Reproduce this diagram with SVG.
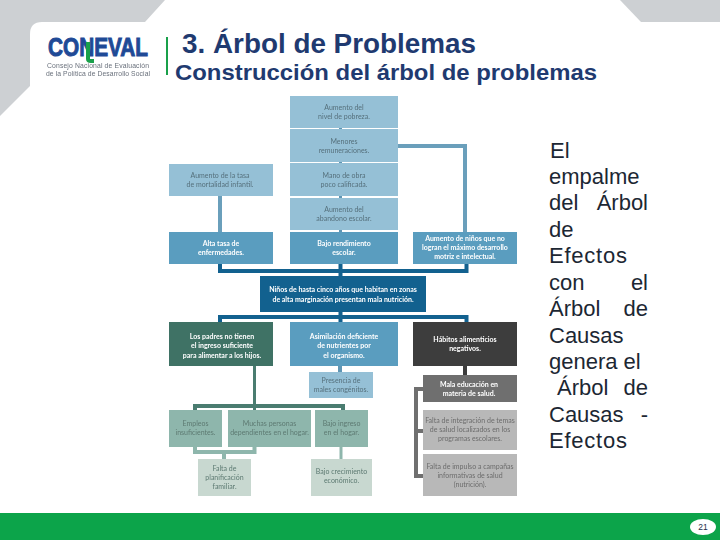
<svg xmlns="http://www.w3.org/2000/svg" width="720" height="540" viewBox="0 0 720 540">
<defs><filter id="soft" x="-5%" y="-20%" width="110%" height="140%"><feGaussianBlur stdDeviation="0.3"/></filter></defs>
<style>
.t{font-family:"Lato","Liberation Sans",sans-serif;font-size:7px;text-anchor:middle;filter:url(#soft)}
.w{fill:#ffffff;font-weight:700}
.d{fill:#55707c}
.g{fill:#5d7a72}
.y{fill:#6c6c6c}
.b{font-family:"Liberation Sans",Arial,sans-serif;font-size:22px;fill:#1c2733}
.e{text-anchor:end}
.c{fill:none;stroke-linecap:butt}
</style>
<rect width="720" height="540" fill="#ffffff"/>
<path d="M0 0H165L145 22H42Q30 22 30 34V86L0 116Z" fill="#cdd0d3"/>
<path d="M620 0L641 22H720V0Z" fill="#cdd0d3"/>
<rect y="513" width="720" height="27" fill="#0ca44a"/>
<ellipse cx="703" cy="527" rx="13" ry="8" fill="#ffffff"/>
<text x="703" y="530" font-family="Liberation Sans,sans-serif" font-size="8.5" fill="#1c2d4a" text-anchor="middle">21</text>

<g id="logo">
<text x="48" y="56" font-family="Liberation Sans,sans-serif" font-size="26" font-weight="700" fill="#1f4a96" stroke="#1f4a96" stroke-width="1" textLength="100" lengthAdjust="spacingAndGlyphs">CONEVAL</text>
<path d="M88 42V59Q88 61 91 61H94" fill="none" stroke="#19a04a" stroke-width="4"/>
<text x="47" y="68" font-family="Liberation Sans,sans-serif" font-size="6.800" fill="#6a717c" textLength="102" filter="url(#soft)">Consejo Nacional de Evaluación</text>
<text x="46" y="76" font-family="Liberation Sans,sans-serif" font-size="6.800" fill="#6a717c" textLength="104" filter="url(#soft)">de la Política de Desarrollo Social</text>
<rect x="166" y="37" width="2" height="38" fill="#19a04a"/>
</g>
<text x="182" y="53" font-family="Liberation Sans,sans-serif" font-size="27" font-weight="700" fill="#1f3a70" textLength="294" lengthAdjust="spacingAndGlyphs">3. Árbol de Problemas</text>
<text x="175" y="80" font-family="Liberation Sans,sans-serif" font-size="22.500" font-weight="700" fill="#1f3a70" textLength="422" lengthAdjust="spacingAndGlyphs">Construcción del árbol de problemas</text>

<g id="connectors" class="c">
<path d="M220 196V232" stroke="#6a9fbb" stroke-width="4"/>
<path d="M398 146H465V232" stroke="#6a9fbb" stroke-width="4"/>
<path d="M340.500 126V232" stroke="#5f96b4" stroke-width="3"/>
<path d="M220 264V271H466.500V264M340.500 264V276" stroke="#12618f" stroke-width="4"/>
<path d="M220 322V317H466.500V322M340.500 312V322" stroke="#12618f" stroke-width="4"/>
<path d="M340 365V372" stroke="#5f96b4" stroke-width="4"/>
<path d="M465 365V375" stroke="#3d3d3d" stroke-width="4"/>
<path d="M254.500 365V410" stroke="#4a7c70" stroke-width="3"/>
<path d="M343 410V406H195V410" stroke="#4a7c70" stroke-width="4"/>
<path d="M195 446V452H254.500V446M224 452V459" stroke="#8eb6ac" stroke-width="4"/>
<path d="M341 446V459" stroke="#8eb6ac" stroke-width="3"/>
<path d="M423 389H416V476H423M416 431H423" stroke="#6f6f6f" stroke-width="4"/>
</g>

<g id="n1"><rect x="290" y="96" width="108" height="32" fill="#95c0d6"/><text class="t d"><tspan x="344" y="110">Aumento del</tspan><tspan x="344" y="119">nivel de pobreza.</tspan></text></g>
<g id="n2"><rect x="290" y="129" width="108" height="33" fill="#95c0d6"/><text class="t d"><tspan x="344" y="144">Menores</tspan><tspan x="344" y="153">remuneraciones.</tspan></text></g>
<g id="n3"><rect x="290" y="163" width="108" height="33" fill="#95c0d6"/><text class="t d"><tspan x="344" y="178">Mano de obra</tspan><tspan x="344" y="187">poco calificada.</tspan></text></g>
<g id="n4"><rect x="290" y="198" width="108" height="32" fill="#95c0d6"/><text class="t d"><tspan x="344" y="212">Aumento del</tspan><tspan x="344" y="221">abandono escolar.</tspan></text></g>
<g id="n5"><rect x="169" y="164" width="104" height="32" fill="#95c0d6"/><text class="t d"><tspan x="220" y="178">Aumento de la tasa</tspan><tspan x="220" y="187">de mortalidad infantil.</tspan></text></g>
<g id="n6"><rect x="169" y="232" width="104" height="32" fill="#5a9dbf"/><text class="t w"><tspan x="221" y="246">Alta tasa de</tspan><tspan x="221" y="255">enfermedades.</tspan></text></g>
<g id="n7"><rect x="290" y="232" width="108" height="32" fill="#5a9dbf"/><text class="t w"><tspan x="344" y="246">Bajo rendimiento</tspan><tspan x="344" y="255">escolar.</tspan></text></g>
<g id="n8"><rect x="413" y="232" width="104" height="32" fill="#5a9dbf"/><text class="t w"><tspan x="465" y="241">Aumento de niños que no</tspan><tspan x="465" y="250">logran el máximo desarrollo</tspan><tspan x="465" y="259">motriz e intelectual.</tspan></text></g>
<g id="n9"><rect x="260" y="276" width="166" height="36" fill="#12618f"/><text class="t w"><tspan x="343" y="292">Niños de hasta cinco años que habitan en zonas</tspan><tspan x="343" y="302">de alta marginación presentan mala nutrición.</tspan></text></g>
<g id="n10"><rect x="169" y="322" width="104" height="44" fill="#3f7265"/><text class="t w"><tspan x="222" y="339">Los padres no tienen</tspan><tspan x="222" y="348">el ingreso suficiente</tspan><tspan x="222" y="358">para alimentar a los hijos.</tspan></text></g>
<g id="n11"><rect x="290" y="322" width="108" height="44" fill="#5a9dbf"/><text class="t w"><tspan x="344" y="339">Asimilación deficiente</tspan><tspan x="344" y="348">de nutrientes por</tspan><tspan x="344" y="358">el organismo.</tspan></text></g>
<g id="n12"><rect x="413" y="322" width="104" height="44" fill="#3d3d3d"/><text class="t w"><tspan x="465" y="342">Hábitos alimenticios</tspan><tspan x="465" y="351">negativos.</tspan></text></g>
<g id="n13"><rect x="309" y="372" width="64" height="26" fill="#95c0d6"/><text class="t d"><tspan x="341" y="383">Presencia de</tspan><tspan x="341" y="392">males congénitos.</tspan></text></g>
<g id="n14"><rect x="423" y="375" width="94" height="27" fill="#6f6f6f"/><text class="t w"><tspan x="469" y="387">Mala educación en</tspan><tspan x="469" y="396">materia de salud.</tspan></text></g>
<g id="n15"><rect x="423" y="410" width="94" height="40" fill="#b8b8b8"/><text class="t y"><tspan x="470" y="423">Falta de integración de temas</tspan><tspan x="470" y="432">de salud localizados en los</tspan><tspan x="470" y="441">programas escolares.</tspan></text></g>
<g id="n16"><rect x="423" y="454" width="94" height="42" fill="#b8b8b8"/><text class="t y"><tspan x="470" y="469">Falta de impulso a campañas</tspan><tspan x="470" y="478">informativas de salud</tspan><tspan x="470" y="487">(nutrición).</tspan></text></g>
<g id="n17"><rect x="169" y="410" width="53" height="37" fill="#8eb6ac"/><text class="t g"><tspan x="195.500" y="426">Empleos</tspan><tspan x="195.500" y="435">insuficientes.</tspan></text></g>
<g id="n18"><rect x="228" y="410" width="83" height="37" fill="#8eb6ac"/><text class="t g"><tspan x="269.500" y="426">Muchas personas</tspan><tspan x="269.500" y="435">dependientes en el hogar.</tspan></text></g>
<g id="n19"><rect x="315" y="410" width="53" height="37" fill="#8eb6ac"/><text class="t g"><tspan x="341.500" y="426">Bajo ingreso</tspan><tspan x="341.500" y="435">en el hogar.</tspan></text></g>
<g id="n20"><rect x="198" y="459" width="53" height="37" fill="#c8d8d0"/><text class="t g"><tspan x="224.500" y="471">Falta de</tspan><tspan x="224.500" y="480">planificación</tspan><tspan x="224.500" y="489">familiar.</tspan></text></g>
<g id="n21"><rect x="311" y="459" width="61" height="37" fill="#c8d8d0"/><text class="t g"><tspan x="341.500" y="474">Bajo crecimiento</tspan><tspan x="341.500" y="483">económico.</tspan></text></g>

<g id="body" class="b">
<text x="550" y="158">El</text>
<text x="549" y="184">empalme</text>
<text x="549" y="210">del</text><text class="e" x="648" y="210">Árbol</text>
<text x="549" y="237">de</text>
<text x="549" y="263" textLength="78">Efectos</text>
<text x="549" y="290">con</text><text class="e" x="648" y="290">el</text>
<text x="549" y="316">Árbol</text><text class="e" x="648" y="316">de</text>
<text x="549" y="343">Causas</text>
<text x="549" y="369">genera el</text>
<text x="557" y="395">Árbol</text><text class="e" x="648" y="395">de</text>
<text x="549" y="422">Causas</text><text class="e" x="648" y="422">-</text>
<text x="549" y="448" textLength="78">Efectos</text>
</g>
</svg>
